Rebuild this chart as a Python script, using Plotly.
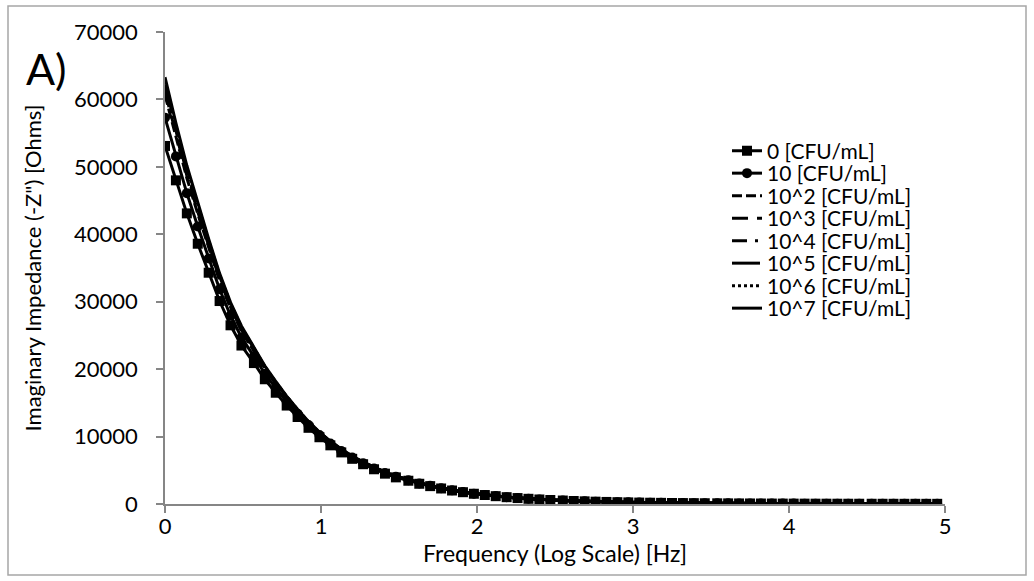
import plotly.graph_objects as go

# log10 of frequency [Hz]
log_freq = [0.00, 0.07, 0.14, 0.21, 0.28, 0.35, 0.42, 0.49, 0.57, 0.64,
            0.71, 0.78, 0.85, 0.92, 0.99, 1.06, 1.13, 1.20, 1.27, 1.34,
            1.41, 1.48, 1.56, 1.63, 1.70, 1.77, 1.84, 1.91, 1.98, 2.05,
            2.12, 2.19, 2.26, 2.33, 2.40, 2.47, 2.55, 2.62, 2.69, 2.76,
            2.83, 2.90, 2.97, 3.04, 3.11, 3.18, 3.25, 3.32, 3.39, 3.46,
            3.54, 3.61, 3.68, 3.75, 3.82, 3.89, 3.96, 4.03, 4.10, 4.17,
            4.24, 4.31, 4.38, 4.45, 4.53, 4.60, 4.67, 4.74, 4.81, 4.88, 4.95]

tail_low = [1160, 1010, 880, 770, 670, 590, 515, 450, 395, 345, 305, 270, 240, 212,
            190, 170, 152, 137, 124, 112, 102, 93, 85, 78, 72, 66, 61, 57, 53, 49,
            46, 43, 40, 38, 36, 34, 32, 30, 29, 27, 26]
tail_high = [1172, 1019, 888, 777, 676, 595, 520, 454, 398, 348, 307, 272, 242, 213,
             191, 171, 153, 138, 125, 113, 103, 94, 86, 79, 73, 67, 62, 58, 54, 50,
             47, 44, 41, 39, 37, 35, 33, 31, 30, 28, 27]

z_0 = [53100, 48000, 43100, 38600, 34300, 30100, 26500, 23500, 20900, 18500,
       16500, 14600, 12900, 11300, 9900, 8700, 7650, 6700, 5900, 5150,
       4500, 3950, 3450, 3000, 2650, 2300, 2000, 1750, 1520, 1330] + tail_low
z_1 = [57300, 51550, 46100, 41150, 36400, 31850, 27950, 24700, 21900, 19330,
       17200, 15180, 13390, 11700, 10230, 8960, 7870, 6880, 6050, 5270,
       4600, 4030, 3510, 3050, 2690, 2330, 2025, 1770, 1535, 1342] + tail_high
z_2 = [60650, 54290, 48350, 43040, 38000, 33130, 29020, 25650, 22680, 19980,
       17760, 15640, 13750, 12000, 10470, 9170, 8035, 7010, 6160, 5360,
       4670, 4090, 3560, 3090, 2720, 2355, 2045, 1783, 1546, 1348] + tail_high
z_3 = [61160, 54720, 48710, 43340, 38250, 33340, 29190, 25790, 22800, 20080,
       17840, 15710, 13810, 12050, 10510, 9200, 8060, 7030, 6175, 5370,
       4680, 4100, 3570, 3095, 2725, 2360, 2047, 1786, 1548, 1350] + tail_high
z_4 = [61670, 55140, 49060, 43640, 38500, 33540, 29360, 25940, 22920, 20180,
       17930, 15780, 13870, 12100, 10550, 9230, 8087, 7053, 6194, 5385,
       4693, 4110, 3576, 3101, 2730, 2363, 2050, 1788, 1549, 1351] + tail_high
z_5 = [62230, 55610, 49450, 43970, 38780, 33770, 29540, 26100, 23050, 20290,
       18020, 15850, 13930, 12150, 10590, 9264, 8115, 7076, 6213, 5401,
       4706, 4120, 3584, 3107, 2735, 2367, 2054, 1790, 1551, 1352] + tail_high
z_6 = [62760, 56050, 49820, 44280, 39040, 33980, 29720, 26250, 23170, 20390,
       18110, 15930, 13990, 12200, 10630, 9297, 8142, 7098, 6231, 5415,
       4718, 4130, 3592, 3114, 2740, 2371, 2057, 1793, 1553, 1354] + tail_high
z_7 = [63300, 56500, 50200, 44600, 39300, 34200, 29900, 26400, 23300, 20500,
       18200, 16000, 14050, 12250, 10670, 9330, 8170, 7120, 6250, 5430,
       4730, 4140, 3600, 3120, 2745, 2375, 2060, 1795, 1555, 1355] + tail_high

series_names = ["0 [CFU/mL]", "10 [CFU/mL]", "10^2 [CFU/mL]", "10^3 [CFU/mL]",
                "10^4 [CFU/mL]", "10^5 [CFU/mL]", "10^6 [CFU/mL]", "10^7 [CFU/mL]"]
series_values = [z_0, z_1, z_2, z_3, z_4, z_5, z_6, z_7]

styles = [
    dict(mode="lines+markers", dash="solid", symbol="square", msize=10),
    dict(mode="lines+markers", dash="solid", symbol="circle", msize=10),
    dict(mode="lines", dash="10px,4px"),
    dict(mode="lines", dash="16px,9px"),
    dict(mode="lines", dash="15px,8px,3px,8px"),
    dict(mode="lines", dash="28px,11px,3px,9px,3px,11px"),
    dict(mode="lines", dash="3px,3px"),
    dict(mode="lines", dash="solid"),
]

FONT = "Lato, 'Open Sans', sans-serif"
W, H = 1034, 581
L, R, T, B = 165, 89, 32, 77
pw, ph = W - L - R, H - T - B

fig = go.Figure()
for i in reversed(range(8)):
    st = styles[i]
    lg = "legend" if i == 0 else f"legend{i+1}"
    kw = dict(x=log_freq, y=series_values[i], name=series_names[i], mode=st["mode"],
              line=dict(color="black", width=3, dash=st["dash"]), legend=lg)
    if "symbol" in st:
        kw["marker"] = dict(symbol=st["symbol"], size=st["msize"], color="black")
    fig.add_trace(go.Scatter(**kw))

legends = {}
for i in range(8):
    key = "legend" if i == 0 else f"legend{i+1}"
    yc = 151 + 22.5 * i
    legends[key] = dict(x=(727 - L) / pw, y=(H - B - yc) / ph, xanchor="left", yanchor="middle",
                        bgcolor="rgba(0,0,0,0)", borderwidth=0,
                        font=dict(family=FONT, size=21, color="black"))

axis_col = "#868686"
fig.update_layout(
    width=W, height=H,
    margin=dict(l=L, r=R, t=T, b=B),
    paper_bgcolor="white", plot_bgcolor="white",
    font=dict(family=FONT, size=20, color="black"),
    showlegend=True,
    xaxis=dict(range=[0, 5], dtick=1, showgrid=False, zeroline=False,
               showline=True, linecolor=axis_col, linewidth=1.5,
               ticks="outside", ticklen=7, tickcolor=axis_col, tickwidth=1.5,
               ticklabelstandoff=-5,
               tickfont=dict(family=FONT, size=22, color="black"),
               title=dict(text="Frequency (Log Scale) [Hz]", standoff=0,
                          font=dict(family=FONT, size=23, color="black"))),
    yaxis=dict(range=[0, 70000], dtick=10000, showgrid=False, zeroline=False,
               showline=True, linecolor=axis_col, linewidth=1.5,
               ticks="outside", ticklen=7, tickcolor=axis_col, tickwidth=1.5,
               tickformat="d", ticklabelstandoff=14,
               tickfont=dict(family=FONT, size=22, color="black"),
               title=dict(text="Imaginary Impedance (-Z\") [Ohms]", standoff=26,
                          font=dict(family=FONT, size=22, color="black"))),
    **legends,
)

# outer chart border
fig.add_shape(type="rect", xref="paper", yref="paper",
              x0=(8 - L) / pw, x1=(1026 - L) / pw,
              y0=(H - B - 575) / ph, y1=(H - B - 6) / ph,
              line=dict(color="#a6a6a6", width=1.5), fillcolor="rgba(0,0,0,0)", layer="below")

fig.add_annotation(text="A)", xref="paper", yref="paper",
                   x=(24 - L) / pw, y=(H - B - 68) / ph, xanchor="left", yanchor="middle",
                   showarrow=False, font=dict(family=FONT, size=43, color="black"))

fig.write_html("out.html")
